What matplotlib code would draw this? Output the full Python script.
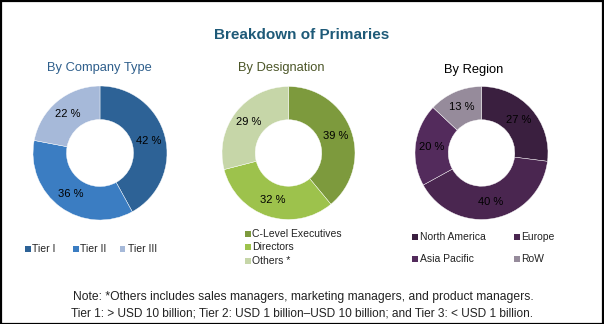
import matplotlib
matplotlib.use("Agg")
import matplotlib.pyplot as plt
from matplotlib.patches import Rectangle
from matplotlib import font_manager
import numpy as np

W, H = 604, 324

company_labels = ["Tier I", "Tier II", "Tier III"]
company_values = [42, 36, 22]
company_colors = ["#2D6296", "#3B7DC2", "#A6B9D9"]

designation_labels = ["C-Level Executives", "Directors", "Others *"]
designation_values = [39, 32, 29]
designation_colors = ["#7D9A3D", "#9DC24C", "#C6D6A8"]

region_labels = ["North America", "Europe", "Asia Pacific", "RoW"]
region_values = [27, 40, 20, 13]
region_colors = ["#3A1F3F", "#4A2650", "#532B5C", "#968B9B"]

title = "Breakdown of Primaries"
subtitles = ["By Company Type", "By Designation", "By Region"]
note_lines = ["Note: *Others includes sales managers, marketing managers, and product managers.",
              "Tier 1: > USD 10 billion; Tier 2: USD 1 billion\u2013USD 10 billion; and Tier 3: < USD 1 billion."]

names = {f.name for f in font_manager.fontManager.ttflist}
narrow = "Liberation Sans Narrow" if "Liberation Sans Narrow" in names else "Liberation Sans"
plt.rcParams['font.family'] = [narrow, 'DejaVu Sans']

fig = plt.figure(figsize=(W / 100, H / 100), dpi=100)
fig.patch.set_facecolor("white")
fig.add_artist(Rectangle((0.5 / W, 0.5 / H), 1 - 1.5 / W, 1 - 1.5 / H, transform=fig.transFigure,
                         fill=False, edgecolor="black", linewidth=1.6))


def px(x, y):
    return x / W, 1 - y / H


def donut(cx, cy, r, values, colors):
    ax = fig.add_axes([(cx - r) / W, 1 - (cy + r) / H, 2 * r / W, 2 * r / H])
    wedges, _ = ax.pie(values, colors=colors, startangle=90, counterclock=False,
                       radius=1.0, wedgeprops=dict(width=0.5, edgecolor="white", linewidth=0.3))
    cum = np.cumsum([0] + list(values))
    tot = sum(values)
    for i, v in enumerate(values):
        mid = 90 - 360 * (cum[i] + v / 2) / tot
        a = np.deg2rad(mid)
        ax.text(0.75 * np.cos(a), 0.75 * np.sin(a), f"{v} %", ha="center", va="center",
                fontsize=8, color="black")
    ax.set_xlim(-1, 1)
    ax.set_ylim(-1, 1)
    ax.set_aspect("equal")
    ax.axis("off")
    return wedges


donut(100, 153, 67, company_values, company_colors)
donut(288.5, 153, 66.5, designation_values, designation_colors)
donut(481.5, 153, 66.5, region_values, region_colors)

fig.text(*px(302, 35), title, ha="center", va="center", fontsize=11, fontweight="bold",
         color="#1E5A78", family=["Liberation Sans", "DejaVu Sans"])
fig.text(*px(99, 68), subtitles[0], ha="center", va="center", fontsize=9.3, color="#2F5F8C")
fig.text(*px(281, 68), subtitles[1], ha="center", va="center", fontsize=9.3, color="#4C5628")
fig.text(*px(474, 70), subtitles[2], ha="center", va="center", fontsize=9.3, color="black")


def legend_item(x, y, label, color):
    s = 5.5
    fig.add_artist(Rectangle(((x) / W, 1 - (y + s / 2) / H), s / W, s / H,
                             transform=fig.transFigure, facecolor=color, edgecolor="none"))
    fig.text((x + s + 2) / W, 1 - y / H, label, ha="left", va="center", fontsize=7.5, color="#222222")


for (x, lab, c) in zip([25, 73, 120], company_labels, company_colors):
    legend_item(x, 249, lab, c)
for (y, lab, c) in zip([234, 247, 261], designation_labels, designation_colors):
    legend_item(245, y, lab, c)
for (x, y), lab, c in zip([(412, 237), (514, 237), (412, 259), (514, 259)], region_labels, region_colors):
    legend_item(x, y, lab, c)

fig.text(*px(303, 297), note_lines[0], ha="center", va="center", fontsize=8.7, color="#222222",
         family=["Liberation Sans", "DejaVu Sans"])
fig.text(*px(302, 314), note_lines[1], ha="center", va="center", fontsize=8.55, color="#222222",
         family=["Liberation Sans", "DejaVu Sans"])

fig.savefig("out.png", dpi=100)
